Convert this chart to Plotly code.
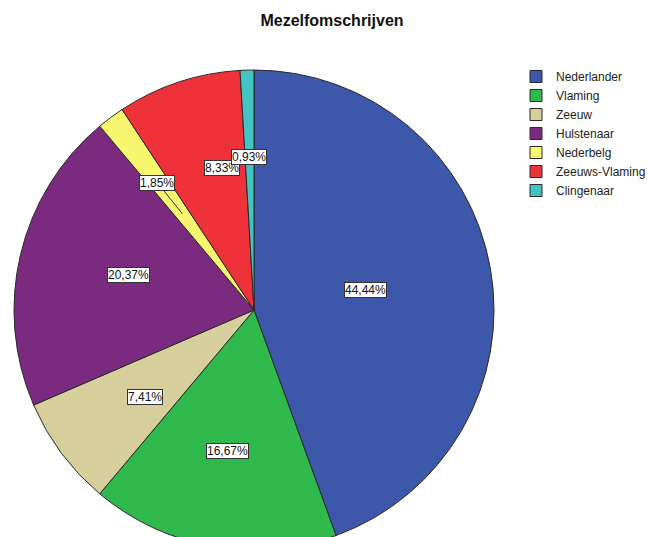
import math
import plotly.graph_objects as go

# data
categories = ["Nederlander", "Vlaming", "Zeeuw", "Hulstenaar",
              "Nederbelg", "Zeeuws-Vlaming", "Clingenaar"]
counts = [48, 18, 8, 22, 2, 9, 1]
colors = ["#3d57aa", "#2fb84b", "#d6cf9b", "#7a2a7f",
          "#f8f56e", "#ef323a", "#44c3c3"]
title_text = "Mezelfomschrijven"

# layout (pixels)
W, H = 649, 550
CX, CY, R = 254, 310, 240
label_r = [0.47, 0.63, 0.66, 0.63, 0.50, 0.66, 0.67]

total = sum(counts)
pcts = [c / total * 100 for c in counts]

fig = go.Figure()
fig.add_trace(go.Pie(
    labels=categories,
    values=counts,
    sort=False,
    direction="clockwise",
    rotation=0,
    textinfo="none",
    marker=dict(colors=colors, line=dict(color="#2a2a2a", width=1)),
    domain=dict(x=[(CX - R) / W, (CX + R) / W],
                y=[1 - (CY + R) / H, 1 - (CY - R) / H]),
    hovertemplate="%{label}: %{percent}<extra></extra>",
))


def to_paper(angle_deg, frac):
    a = math.radians(angle_deg)
    px = CX + frac * R * math.sin(a)
    py = CY - frac * R * math.cos(a)
    return px / W, 1 - py / H


annotations = []
start = 0.0
for i, p in enumerate(pcts):
    mid = (start + p / 2) / 100 * 360
    start += p
    txt = f"{p:.2f}%".replace(".", ",")
    x, y = to_paper(mid, label_r[i])
    ann = dict(text=txt, x=x, y=y, xref="paper", yref="paper",
               font=dict(family="Liberation Sans, Arial", size=12, color="#111"),
               bgcolor="white", bordercolor="#333", borderwidth=1, borderpad=0,
               showarrow=False)
    if categories[i] == "Nederbelg":
        ann.update(showarrow=True, arrowhead=0, arrowwidth=1, arrowcolor="#333",
                   ax=-25, ay=-31)
    annotations.append(ann)

fig.update_layout(
    width=W, height=H,
    margin=dict(l=0, r=0, t=0, b=0, autoexpand=False),
    paper_bgcolor="white",
    title=dict(text="<b>" + title_text + "</b>", x=332 / W, xanchor="center",
               y=1 - 20 / H, yanchor="middle",
               font=dict(family="Liberation Sans, Arial", size=16, color="#111")),
    legend=dict(x=516 / W, y=1 - 62 / H, xanchor="left", yanchor="top",
                font=dict(family="Liberation Sans, Arial", size=12, color="#222"),
                itemwidth=30, tracegroupgap=0, traceorder="normal"),
    annotations=annotations,
)

fig.write_html("out.html", config={"displayModeBar": False},
               post_script="document.body.style.margin='0';"
                           "document.body.style.overflow='hidden';")
